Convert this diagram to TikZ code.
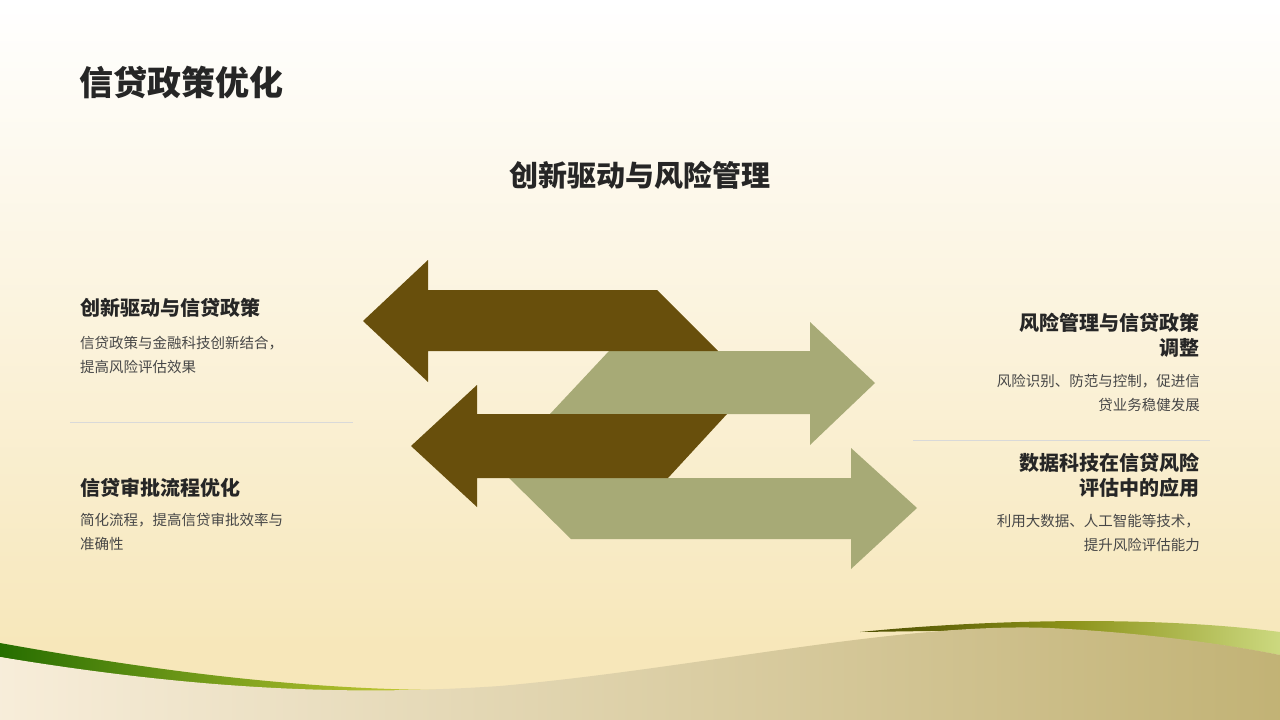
\documentclass[tikz,border=0pt]{standalone}
\usepackage{fontspec}
\setmainfont{Noto Sans CJK SC}
\begin{document}
\begin{tikzpicture}[x=1pt,y=-1pt]
\definecolor{darkb}{HTML}{684F0C}
\definecolor{lightg}{HTML}{A7AA76}
\definecolor{txt}{HTML}{262626}
\definecolor{bg1}{HTML}{FFFFFF}
\definecolor{bg2}{HTML}{F7E7BA}
\tikzset{
 head/.style={font=\bfseries\fontsize{20}{25}\selectfont,text=txt,inner sep=0},
 body/.style={font=\fontsize{14.5}{24}\selectfont,text=txt!85,inner sep=0},
 sep/.style={draw=black!15,line width=0.8pt}
}
\useasboundingbox (0,0) rectangle (1280,720);
\shade[top color=bg1,bottom color=bg2] (0,0) rectangle (1280,650);
\fill[bg2] (0,640) rectangle (1280,720);
% wave
\shade[left color=green!40!black!70!olive, right color=olive!60!yellow!60] (0,643) .. controls (150,670) and (300,690) .. (450,690) -- (450,694) .. controls (300,697) and (150,685) .. (0,657) -- cycle;
\shade[left color=olive!60!black, right color=lime!40!olive!50] (860,632) .. controls (980,620) and (1150,615) .. (1280,632) -- (1280,655) .. controls (1200,640) and (1100,628) .. (1000,630) -- cycle;
\shade[left color=black!0!bg2!80!brown!40, right color=brown!40!olive!60!white]
 (0,657) .. controls (200,690) and (350,696) .. (500,686) .. controls (700,668) and (900,622) .. (1050,628) .. controls (1150,633) and (1230,645) .. (1280,655) -- (1280,720) -- (0,720) -- cycle;
% title
\node[anchor=west,font=\bfseries\fontsize{34}{40}\selectfont,text=txt,inner sep=0] (title) at (79,82) {信贷政策优化};
\node[font=\bfseries\fontsize{29}{35}\selectfont,text=txt,inner sep=0] (sub) at (640,175) {创新驱动与风险管理};
% arrows
\fill[lightg] (609,351) -- (810,351) -- (810,322) -- (875,383) -- (810,445) -- (810,414) -- (550,414) -- cycle;
\fill[darkb] (657,290) -- (428,290) -- (428,260) -- (363,321) -- (428,382) -- (428,351) -- (718,351) -- cycle;
\fill[lightg] (509,478) -- (851,478) -- (851,448) -- (917,508) -- (851,569) -- (851,539) -- (571,539) -- cycle;
\fill[darkb] (727,414) -- (477,414) -- (477,385) -- (411,446) -- (477,507) -- (477,478) -- (668,478) -- cycle;
% left texts
\node[head,anchor=west] (h1) at (80,308) {创新驱动与信贷政策};
\node[body,anchor=north west,align=left] (b1) at (80,336) {信贷政策与金融科技创新结合，\\提高风险评估效果};
\coordinate (s1a) at (70,422); \coordinate (s1b) at (353,422);
\draw[sep] (s1a) -- (s1b);
\node[head,anchor=west] (h2) at (80,488) {信贷审批流程优化};
\node[body,anchor=north west,align=left] (b2) at (80,513) {简化流程，提高信贷审批效率与\\准确性};
% right texts
\node[head,anchor=north east,align=right,font=\bfseries\fontsize{20}{25}\selectfont] (h3) at (1200,313) {风险管理与信贷政策\\调整};
\node[body,anchor=north east,align=right] (b3) at (1200,374) {风险识别、防范与控制，促进信\\贷业务稳健发展};
\coordinate (s2a) at (913,440); \coordinate (s2b) at (1210,440);
\draw[sep] (s2a) -- (s2b);
\node[head,anchor=north east,align=right,font=\bfseries\fontsize{20}{25}\selectfont] (h4) at (1200,453) {数据科技在信贷风险\\评估中的应用};
\node[body,anchor=north east,align=right] (b4) at (1200,514) {利用大数据、人工智能等技术，\\提升风险评估能力};
\end{tikzpicture}
\end{document}
